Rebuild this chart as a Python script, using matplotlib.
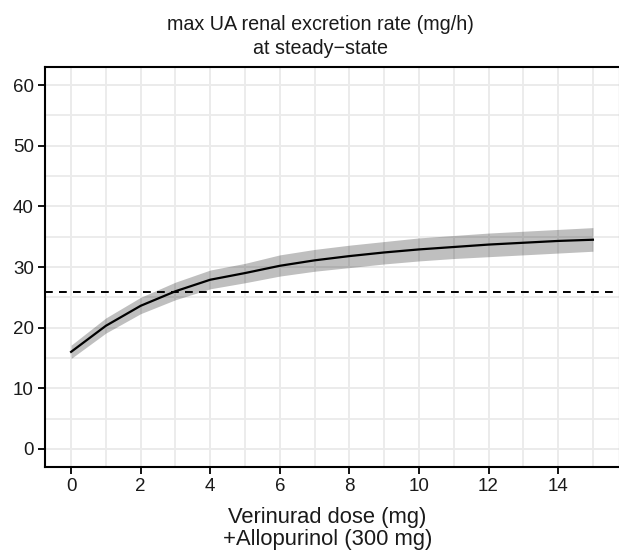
import numpy as np
import matplotlib.pyplot as plt

plt.rcParams['font.family'] = ['Liberation Sans', 'DejaVu Sans']

dose = [0, 1, 2, 3, 4, 5, 6, 7, 8, 9, 10, 11, 12, 13, 14, 15]
rate_med = [16.0, 20.3, 23.6, 26.0, 27.9, 29.0, 30.2, 31.1, 31.8, 32.4, 32.9, 33.3, 33.7, 34.0, 34.3, 34.5]
rate_lo = [14.9, 19.1, 22.3, 24.6, 26.4, 27.4, 28.5, 29.3, 29.9, 30.5, 31.0, 31.4, 31.7, 32.0, 32.3, 32.6]
rate_hi = [17.1, 21.6, 25.0, 27.5, 29.5, 30.6, 32.0, 32.9, 33.6, 34.2, 34.8, 35.2, 35.6, 35.9, 36.2, 36.5]
target = 25.8

W, H = 619, 553
fig = plt.figure(figsize=(W / 100, H / 100), dpi=100)
ax = fig.add_axes([45 / W, 1 - 467 / H, 574 / W, 400 / H])

ax.fill_between(dose, rate_lo, rate_hi, color='black', alpha=0.25, linewidth=0, zorder=2)
ax.plot(dose, rate_med, color='black', lw=1.6, zorder=3)
ax.axhline(target, color='black', lw=1.4, ls=(0, (4, 3.2)), zorder=3)

ax.set_xlim(-0.75, 15.75)
ax.set_ylim(-3, 63)
ax.set_xticks(np.arange(0, 15, 2))
ax.set_xticks(np.arange(1, 16, 2), minor=True)
ax.set_yticks(np.arange(0, 61, 10))
ax.set_yticks(np.arange(5, 61, 10), minor=True)
ax.grid(which='major', color='#ebebeb', lw=1.4, zorder=0)
ax.grid(which='minor', color='#ebebeb', lw=1.3, zorder=0)
ax.set_axisbelow(True)

ax.tick_params(which='major', length=5, width=1.3, color='black', labelsize=13.5,
               labelcolor='#1a1a1a', pad=3)
ax.tick_params(which='minor', length=0)
for s in ['left', 'bottom', 'top']:
    ax.spines[s].set_linewidth(1.5)
    ax.spines[s].set_color('black')
ax.spines['right'].set_color('#888888')

# title and axis label placed where they sit in the original
fig.text(320.5 / W, 1 - 15.5 / H, 'max UA renal excretion rate (mg/h)\nat steady\u2212state',
         fontsize=14.2, color='#1a1a1a', ha='center', va='top', ma='center', linespacing=1.3)
fig.text(327.5 / W, 1 - 506.5 / H, 'Verinurad dose (mg)\n+Allopurinol (300 mg)',
         fontsize=15.8, color='#1a1a1a', ha='center', va='top', ma='center', linespacing=1.1)

fig.savefig('out.png', dpi=100)
